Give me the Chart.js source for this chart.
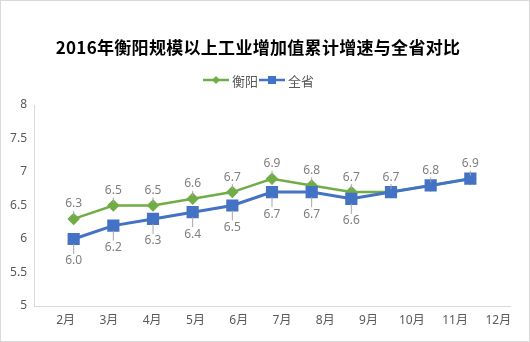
<!DOCTYPE html>
<html>
<head>
<meta charset="utf-8">
<script src="https://cdn.jsdelivr.net/npm/chart.js@4.4.0/dist/chart.umd.min.js"></script>
<style>
  html, body { margin: 0; padding: 0; background: #fff; }
  #wrap { width: 530px; height: 342px; }
</style>
</head>
<body>
<div id="wrap"><canvas id="growth-chart"></canvas></div>
<script>
// Month labels on the x axis
const months = ["2月", "3月", "4月", "5月", "6月", "7月", "8月", "9月", "10月", "11月", "12月"];
// Cumulative growth of industrial value added, %
const hengyang = [6.3, 6.5, 6.5, 6.6, 6.7, 6.9, 6.8, 6.7, 6.7, 6.8, 6.9];
const province = [6.0, 6.2, 6.3, 6.4, 6.5, 6.7, 6.7, 6.6, 6.7, 6.8, 6.9];
// y axis range
const yTicks = [5, 5.5, 6, 6.5, 7, 7.5, 8];

const titleText = "2016年衡阳规模以上工业增加值累计增速与全省对比";
const GREEN = "#70AD47";
const BLUE = "#4472C4";
const FONT = "'Noto Sans', 'Noto Sans CJK SC', sans-serif";

// points sit at slots 1..n on a 0..n+1 axis
const toPoints = arr => arr.map((v, i) => ({ x: i + 1, y: v }));

// background, frame, title and legend
const header = {
  id: "header",
  beforeDraw(chart) {
    const ctx = chart.ctx;
    ctx.save();
    ctx.fillStyle = "#fff";
    ctx.fillRect(0, 0, chart.width, chart.height);
    ctx.strokeStyle = "#d9d9d9";
    ctx.lineWidth = 1;
    ctx.strokeRect(0.5, 0.5, chart.width - 1, chart.height - 1);
    ctx.restore();
  },
  afterDraw(chart) {
    const ctx = chart.ctx;
    ctx.save();
    ctx.fillStyle = "#000";
    ctx.font = "bold 17px 'Noto Sans CJK SC', sans-serif";
    ctx.letterSpacing = "0.3px";
    ctx.textAlign = "center";
    ctx.textBaseline = "middle";
    ctx.fillText(titleText, 258, 48);
    ctx.letterSpacing = "0px";

    // legend: line + marker, then name
    const items = [
      { text: "衡阳", color: GREEN, style: "diamond", x: 203 },
      { text: "全省", color: BLUE, style: "square", x: 259 }
    ];
    const ly = 80;
    ctx.font = "13px 'Noto Sans CJK SC', sans-serif";
    ctx.textAlign = "left";
    items.forEach(it => {
      ctx.strokeStyle = it.color;
      ctx.fillStyle = it.color;
      ctx.lineWidth = 2.5;
      ctx.beginPath();
      ctx.moveTo(it.x, ly);
      ctx.lineTo(it.x + 26, ly);
      ctx.stroke();
      const cx = it.x + 13;
      ctx.beginPath();
      if (it.style === "diamond") {
        ctx.moveTo(cx, ly - 4);
        ctx.lineTo(cx + 4, ly);
        ctx.lineTo(cx, ly + 4);
        ctx.lineTo(cx - 4, ly);
        ctx.closePath();
      } else {
        ctx.rect(cx - 4, ly - 4, 8, 8);
      }
      ctx.fill();
      ctx.fillStyle = "#595959";
      ctx.fillText(it.text, it.x + 29, ly + 1);
    });
    ctx.restore();
  }
};

// value callouts with short leader lines
const valueLabels = {
  id: "valueLabels",
  afterDatasetsDraw(chart) {
    const ctx = chart.ctx;
    ctx.save();
    ctx.font = "12px " + FONT;
    ctx.textAlign = "center";
    ctx.textBaseline = "middle";
    chart.data.datasets.forEach((ds, di) => {
      const meta = chart.getDatasetMeta(di);
      const above = di === 0;
      meta.data.forEach((pt, i) => {
        const v = ds.data[i].y;
        // where both series share a value only one label is shown
        if (!above && hengyang[i] === v) return;
        const off = above ? -15 : 22;
        const ty = pt.y + off;
        ctx.strokeStyle = "#a6a6a6";
        ctx.lineWidth = 1;
        ctx.beginPath();
        if (above) {
          ctx.moveTo(pt.x, pt.y - 3);
          ctx.lineTo(pt.x, ty + 7);
        } else {
          ctx.moveTo(pt.x, pt.y + 5);
          ctx.lineTo(pt.x, ty - 7);
        }
        ctx.stroke();
        ctx.fillStyle = "#7f7f7f";
        ctx.fillText(v.toFixed(1), pt.x, ty);
      });
    });
    ctx.restore();
  }
};

new Chart(document.getElementById("growth-chart"), {
  type: "line",
  data: {
    datasets: [
      {
        label: "衡阳",
        data: toPoints(hengyang),
        xAxisID: "xd",
        order: 1,
        borderColor: GREEN,
        backgroundColor: GREEN,
        borderWidth: 2.5,
        pointStyle: "rectRot",
        pointRadius: 4.5,
        pointHoverRadius: 4.5,
        tension: 0
      },
      {
        label: "全省",
        data: toPoints(province),
        xAxisID: "xd",
        order: 0,
        borderColor: BLUE,
        backgroundColor: BLUE,
        borderWidth: 3,
        pointStyle: "rect",
        pointRadius: 6.5,
        pointHoverRadius: 6.5,
        tension: 0
      }
    ]
  },
  options: {
    responsive: true,
    maintainAspectRatio: false,
    animation: false,
    layout: { padding: { top: 105, right: 20, bottom: 0, left: 0 } },
    plugins: {
      legend: { display: false },
      title: { display: false },
      tooltip: { enabled: false }
    },
    scales: {
      xd: {
        type: "linear",
        display: false,
        min: 0,
        max: months.length + 1
      },
      x: {
        type: "category",
        labels: months,
        offset: true,
        position: "bottom",
        grid: { display: false, drawTicks: false },
        border: { display: true, color: "#d9d9d9", width: 1 },
        ticks: {
          color: "#595959",
          font: { size: 12, family: FONT },
          padding: 7,
          labelOffset: 10,
          maxRotation: 0,
          autoSkip: false
        },
        afterFit(scale) { scale.height = 36; }
      },
      y: {
        min: yTicks[0],
        max: yTicks[yTicks.length - 1],
        afterBuildTicks(scale) { scale.ticks = yTicks.map(v => ({ value: v })); },
        grid: { display: false, drawTicks: false },
        border: { display: true, color: "#d9d9d9", width: 1 },
        ticks: {
          color: "#595959",
          font: { size: 12, family: FONT },
          padding: 7,
          callback: v => String(v)
        },
        afterFit(scale) { scale.width = 34; }
      }
    }
  },
  plugins: [header, valueLabels]
});
</script>
</body>
</html>
